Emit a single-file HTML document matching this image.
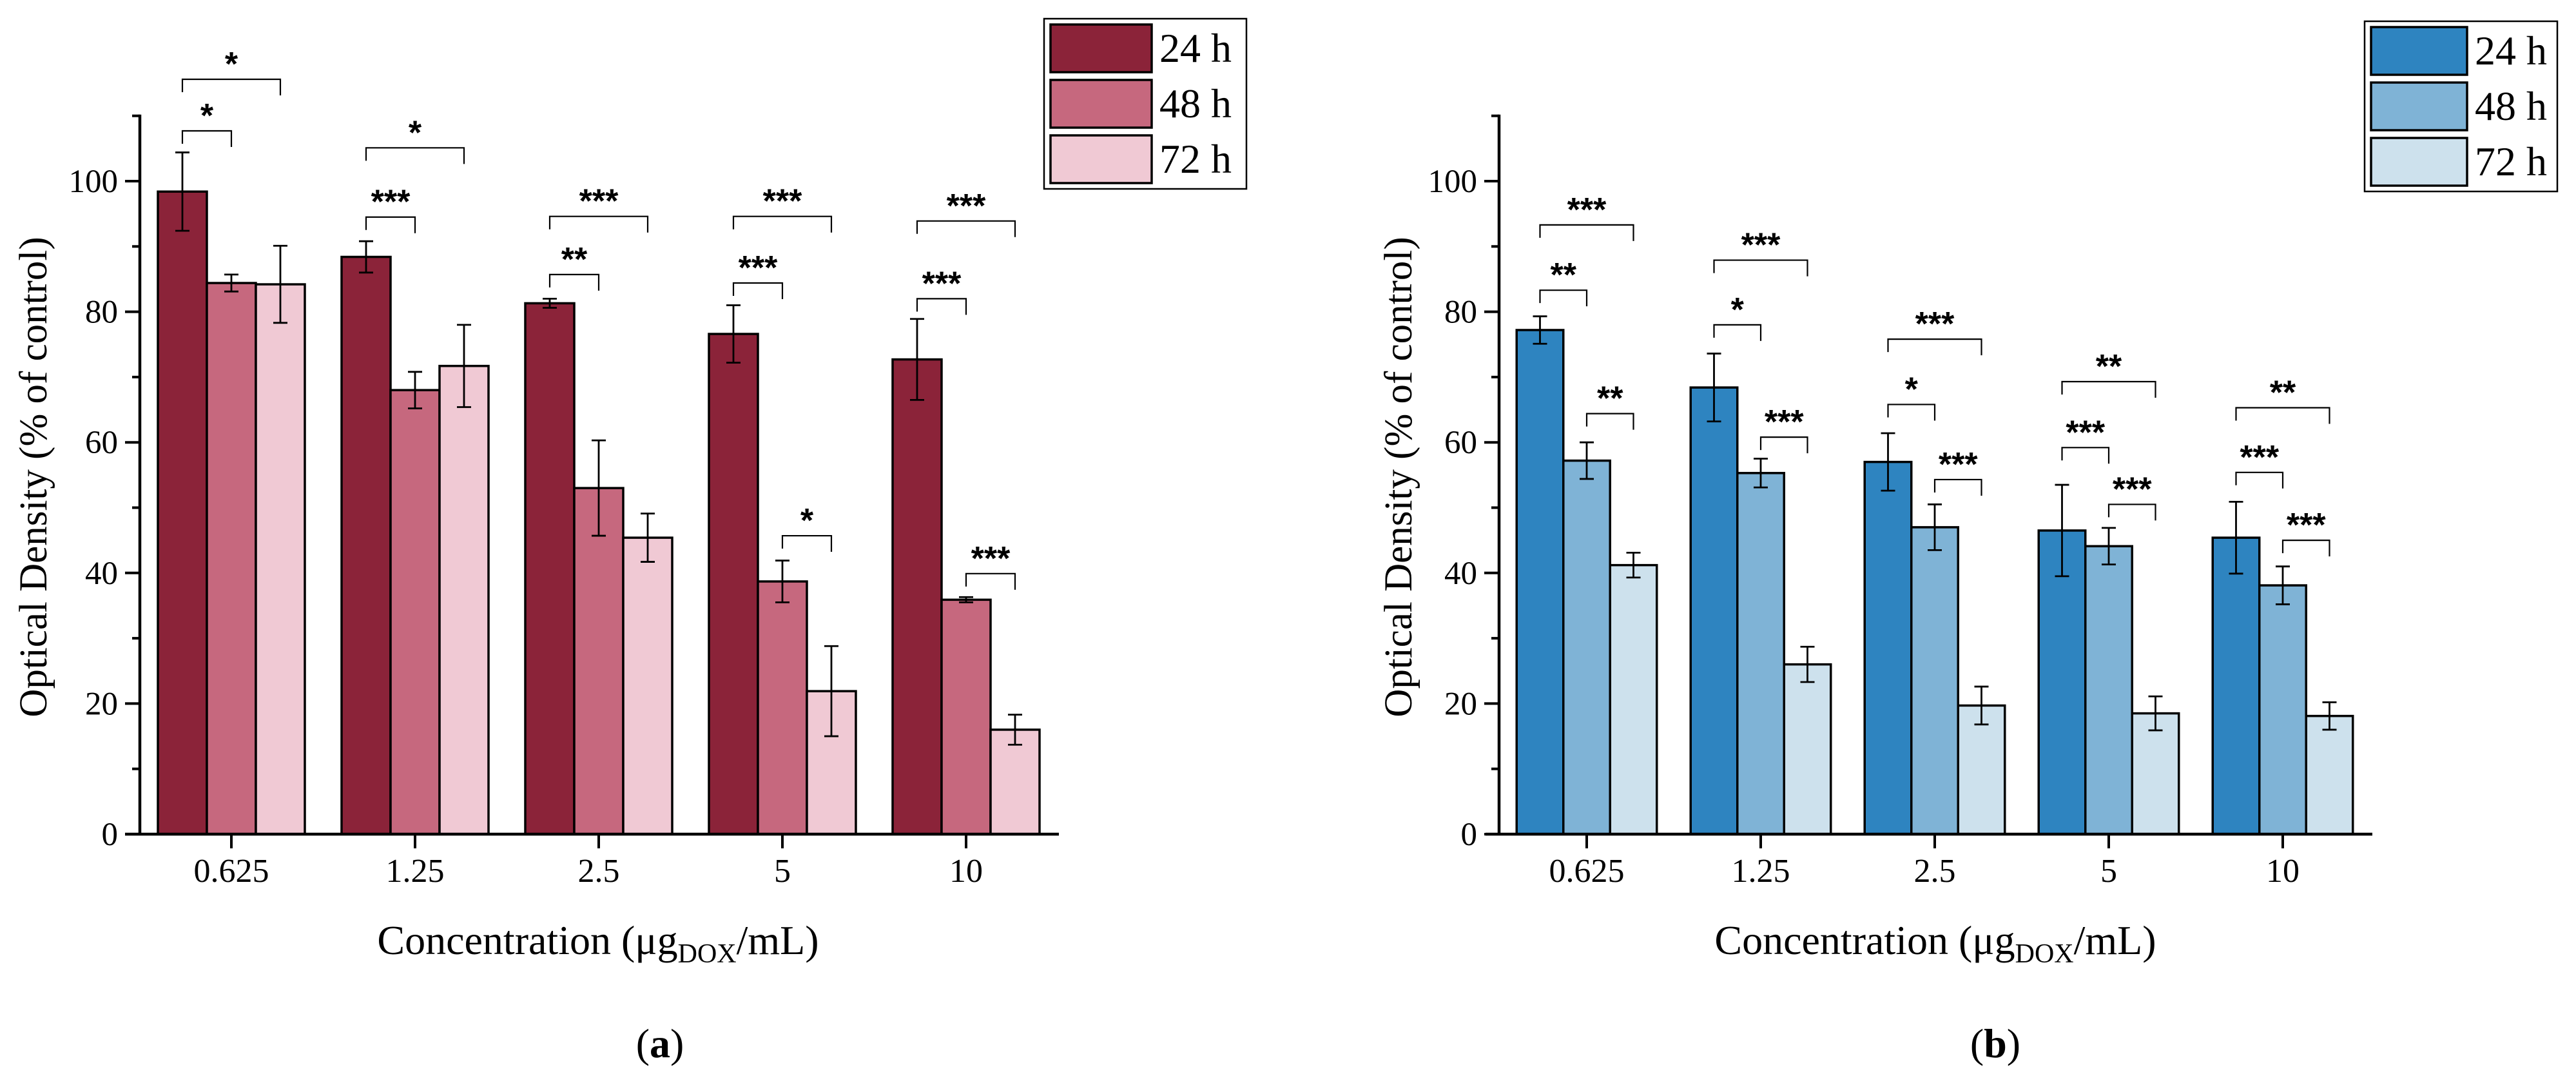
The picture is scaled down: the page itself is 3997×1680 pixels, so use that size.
<!DOCTYPE html>
<html><head><meta charset="utf-8"><style>
html,body{margin:0;padding:0;background:#fff;}
svg{display:block;}
text{font-family:"Liberation Serif",serif;fill:#000;}
.star{font-family:"Liberation Sans",sans-serif;font-size:52px;font-weight:bold;}
</style></head>
<body>
<svg id="fig" width="3997" height="1680" viewBox="0 0 3997 1680" xmlns="http://www.w3.org/2000/svg"></svg>
<script>
const categories = ["0.625","1.25","2.5","5","10"];
const seriesNames = ["24 h","48 h","72 h"];
const yTicks = [0,20,40,60,80,100];
// Panel (a)
const a24 = [98.4,88.4,81.3,76.6,72.7];
const a48 = [84.4,68.0,53.0,38.7,35.9];
const a72 = [84.2,71.7,45.4,21.9,16.0];
const a24err = [6.0,2.4,0.7,4.4,6.2];
const a48err = [1.3,2.8,7.3,3.2,0.4];
const a72err = [5.9,6.3,3.7,6.9,2.3];
// brackets: [category index, from series, to series, level, label]
const aBrackets = [
 [0,0,2,115.6,"*"],[0,0,1,107.7,"*"],
 [1,0,2,105.1,"*"],[1,0,1,94.5,"***"],
 [2,0,2,94.6,"***"],[2,0,1,85.7,"**"],
 [3,0,2,94.6,"***"],[3,0,1,84.4,"***"],[3,1,2,45.7,"*"],
 [4,0,2,93.9,"***"],[4,0,1,82.0,"***"],[4,1,2,39.9,"***"]
];
// Panel (b)
const b24 = [77.2,68.4,57.0,46.5,45.4];
const b48 = [57.2,55.3,47.0,44.1,38.1];
const b72 = [41.2,26.0,19.7,18.5,18.1];
const b24err = [2.1,5.2,4.4,7.0,5.5];
const b48err = [2.8,2.2,3.5,2.8,2.9];
const b72err = [1.9,2.7,2.9,2.6,2.1];
const bBrackets = [
 [0,0,2,93.3,"***"],[0,0,1,83.3,"**"],[0,1,2,64.4,"**"],
 [1,0,2,87.9,"***"],[1,0,1,78.0,"*"],[1,1,2,60.8,"***"],
 [2,0,2,75.8,"***"],[2,0,1,65.8,"*"],[2,1,2,54.3,"***"],
 [3,0,2,69.3,"**"],[3,0,1,59.2,"***"],[3,1,2,50.5,"***"],
 [4,0,2,65.3,"**"],[4,0,1,55.4,"***"],[4,1,2,45.0,"***"]
];

const NS="http://www.w3.org/2000/svg";
const svg=document.getElementById('fig');
function mk(tag,attrs,parent){const e=document.createElementNS(NS,tag);for(const k in attrs)e.setAttribute(k,attrs[k]);(parent||svg).appendChild(e);return e;}

function panel(cfg){
  const g=mk('g',{});
  
  
  const y0=1294, yPer=10.13;
  const y=v=>y0-v*yPer;
  const xc=i=>cfg.c0+i*cfg.step;
  const bw=cfg.bw;
  const vals=[cfg.s24,cfg.s48,cfg.s72], errs=[cfg.e24,cfg.e48,cfg.e72];
  const bx=(i,s)=>xc(i)+(s-1)*bw;
  for(let s=0;s<3;s++){
    for(let i=0;i<categories.length;i++){
      const r=mk('rect',{x:bx(i,s)-bw/2,y:y(vals[s][i]),width:bw,height:y0-y(vals[s][i]),fill:cfg.colors[s],stroke:'#000','stroke-width':3.5},g);
      
      
    }
  }
  for(let s=0;s<3;s++){
    for(let i=0;i<categories.length;i++){
      const cx=bx(i,s), t=y(vals[s][i]+errs[s][i]), b=y(vals[s][i]-errs[s][i]);
      const eg=mk('g',{stroke:'#000','stroke-width':2.8},g);
      
      
      mk('line',{x1:cx,x2:cx,y1:t,y2:b},eg);
      mk('line',{x1:cx-11,x2:cx+11,y1:t,y2:t},eg);
      mk('line',{x1:cx-11,x2:cx+11,y1:b,y2:b},eg);
    }
  }
  const ax=cfg.ax;
  const yl=mk('line',{x1:ax,x2:ax,y1:y(110)-2,y2:y0+2,stroke:'#000','stroke-width':4.5},g);
  
  
  const xl=mk('line',{x1:cfg.axStart,x2:cfg.axEnd,y1:y0,y2:y0,stroke:'#000','stroke-width':4.5},g);
  
  
  for(let v=10;v<=110;v+=20){mk('line',{x1:ax-12,x2:ax,y1:y(v),y2:y(v),stroke:'#000','stroke-width':4},g);}
  yTicks.forEach(v=>{
    mk('line',{x1:ax-23,x2:ax,y1:y(v),y2:y(v),stroke:'#000','stroke-width':4},g);
    const t=mk('text',{x:ax-34,y:y(v)+17,'text-anchor':'end','font-size':51},g);
    t.textContent=v;
    
    
  });
  categories.forEach((c,i)=>{
    mk('line',{x1:xc(i),x2:xc(i),y1:y0,y2:y0+22,stroke:'#000','stroke-width':4},g);
    const t=mk('text',{x:xc(i),y:1368,'text-anchor':'middle','font-size':52},g);
    t.textContent=c;
    
    
  });
  cfg.brackets.forEach(br=>{
    const [i,s1,s2,lvl,lab]=br;
    const x1=bx(i,s1), x2=bx(i,s2), yy=y(lvl);
    const p=mk('path',{d:`M${x1},${yy+20} V${yy} H${x2} V${yy+25}`,fill:'none',stroke:'#000','stroke-width':2.2},g);
    
    
    const t=mk('text',{x:(x1+x2)/2,y:yy-6,'text-anchor':'middle','class':'star'},g);
    t.textContent=lab;
    
    
  });
  const yt=mk('text',{x:0,y:0,'text-anchor':'middle','font-size':61,transform:`translate(${cfg.ytX},740) rotate(-90)`},g);
  yt.textContent='Optical Density (% of control)';
  
  
  const xt=mk('text',{x:cfg.xtX,y:1480,'text-anchor':'middle','font-size':64},g);
  xt.innerHTML='Concentration (μg<tspan font-size="42" dy="13">DOX</tspan><tspan dy="-13">/mL)</tspan>';
  
  
  const pl=mk('text',{x:cfg.plX,y:1640,'text-anchor':'middle','font-size':64},g);
  pl.innerHTML='(<tspan font-weight="bold">'+cfg.letter+'</tspan>)';
  
  
  const L=cfg.leg;
  const lg=mk('g',{},g);
  
  
  mk('rect',{x:L.x,y:L.y,width:L.w,height:L.h,fill:'#fff',stroke:'#000','stroke-width':2.5},lg);
  for(let s=0;s<3;s++){
    const ry=L.y+9+s*L.row;
    const sw=mk('rect',{x:L.x+10,y:ry,width:L.sw,height:L.row-12,fill:cfg.colors[s],stroke:'#000','stroke-width':3.5},lg);
    
    
    const t=mk('text',{x:L.x+L.sw+22,y:ry+L.row/2+15,'font-size':64},lg);
    t.textContent=seriesNames[s];
    
    
  }
}

panel({name:'panel-a',letter:'a',c0:359,step:285,bw:76,ax:217,axStart:194,axEnd:1643,ytX:72,xtX:928,plX:1024,
  s24:a24,s48:a48,s72:a72,e24:a24err,e48:a48err,e72:a72err,brackets:aBrackets,
  colors:['#8B2339','#C6687E','#F0C9D4'],
  leg:{x:1620,y:29,w:314,h:264,sw:157,row:86}});
panel({name:'panel-b',letter:'b',c0:2462,step:270,bw:72.5,ax:2326,axStart:2305,axEnd:3681,ytX:2190,xtX:3003,plX:3096,
  s24:b24,s48:b48,s72:b72,e24:b24err,e48:b48err,e72:b72err,brackets:bBrackets,
  colors:['#2E84C0','#7FB3D6','#CDE1ED'],
  leg:{x:3669,y:33,w:299,h:264,sw:149,row:86}});
</script>
</body></html>
